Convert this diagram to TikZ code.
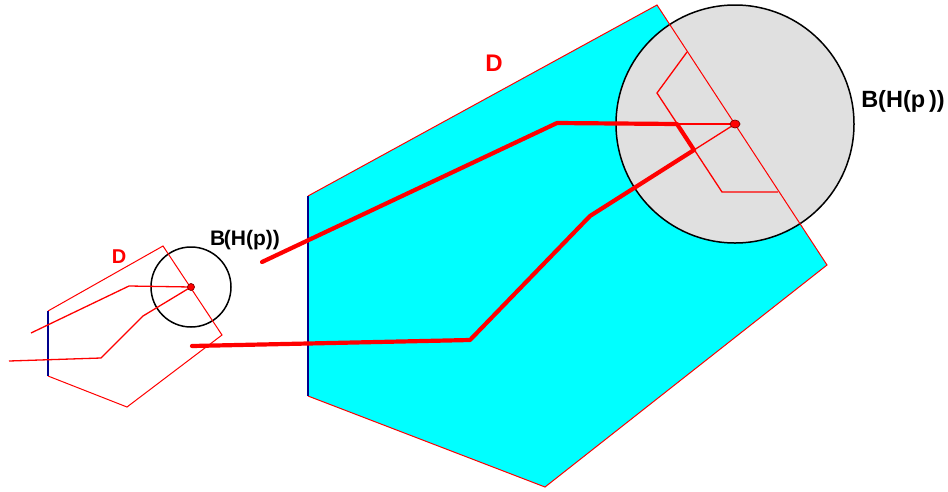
\documentclass[tikz,border=0pt]{standalone}
\usepackage{fontspec}
\usetikzlibrary{shapes.geometric}
\setmainfont{Liberation Sans}
\definecolor{aqua}{RGB}{0,255,255}
\definecolor{ballgray}{RGB}{224,224,224}
\definecolor{rred}{RGB}{255,0,0}
\definecolor{navy}{RGB}{0,0,140}
\begin{document}
\begin{tikzpicture}[x=1pt,y=-1pt,
  edge/.style={draw=rred,line width=1pt},
  bedge/.style={draw=navy,line width=1.2pt},
  thin/.style={draw=rred,line width=1.3pt},
  thick/.style={draw=rred,line width=4.2pt,line cap=round,line join=round},
  ball/.style={draw=black,line width=1.5pt},
  dot/.style={circle,fill=rred,draw=red!50!black,line width=0.7pt,inner sep=0pt,minimum size=8pt},
  lbl/.style={font=\bfseries,inner sep=0pt}]
\useasboundingbox (0,0) rectangle (948,491);
% big polygon
\coordinate (P1) at (308,196);
\coordinate (P2) at (657,5);
\coordinate (P3) at (827,265);
\coordinate (P4) at (545,487);
\coordinate (P5) at (308,396);
\fill[aqua] (P1) -- (P2) -- (P3) -- (P4) -- (P5) -- cycle;
% big ball
\coordinate (C) at (735,124);
\filldraw[fill=ballgray,ball] (C) circle[radius=119];
\draw[edge] (P5) -- (P4) -- (P3) -- (P2) -- (P1);
\draw[bedge] (P1) -- (P5);
% thin polyline inside ball
\coordinate (T1) at (687,52);
\coordinate (T2) at (657,93);
\coordinate (T3) at (722,192);
\coordinate (T4) at (778,192);
\draw[thin] (T1) -- (T2) -- (T3) -- (T4);
% thick path
\coordinate (A0) at (262,262);
\coordinate (A1) at (557,123);
\coordinate (A2) at (677,124);
\coordinate (A3) at (694,150);
\coordinate (A4) at (590,216);
\coordinate (A5) at (470,340);
\coordinate (A6) at (192,346);
\draw[thin] (A2) -- (C);
\draw[thin] (A3) -- (C);
\draw[thick] (A0) -- (A1) -- (A2) -- (A3) -- (A4) -- (A5) -- (A6);
\node[dot,ellipse,minimum width=10pt,minimum height=8pt] (cd) at (C) {};
% small polygon
\coordinate (Q1) at (48,311);
\coordinate (Q2) at (163,246);
\coordinate (Q3) at (222,335);
\coordinate (Q4) at (127,407);
\coordinate (Q5) at (48,376);
\coordinate (c) at (191,287);
\draw[ball] (c) circle[radius=40];
\draw[edge] (Q5) -- (Q4) -- (Q3) -- (Q2) -- (Q1);
\draw[bedge] (Q1) -- (Q5);
\coordinate (S1) at (31,333);
\coordinate (S2) at (129,286);
\coordinate (U1) at (9,361);
\coordinate (U2) at (101,358);
\coordinate (U3) at (143,316);
\draw[thin] (S1) -- (S2) -- (c);
\draw[thin] (U1) -- (U2) -- (U3) -- (c);
\node[dot,minimum size=7pt] (sd) at (c) {};
% labels
\node[lbl,text=rred,font=\fontsize{24}{24}\selectfont\bfseries] (D1) at (494,63) {D};
\node[lbl,text=rred,font=\fontsize{20}{20}\selectfont\bfseries] (D2) at (119,257) {D};
\node[lbl,font=\fontsize{23.5}{23.5}\selectfont\bfseries] (B1) at (903,101) {B(H(p\,))};
\node[lbl,font=\fontsize{21}{21}\selectfont\bfseries] (B2) at (245,240) {B\kern-1.5pt(H(p))};
\end{tikzpicture}
\end{document}
